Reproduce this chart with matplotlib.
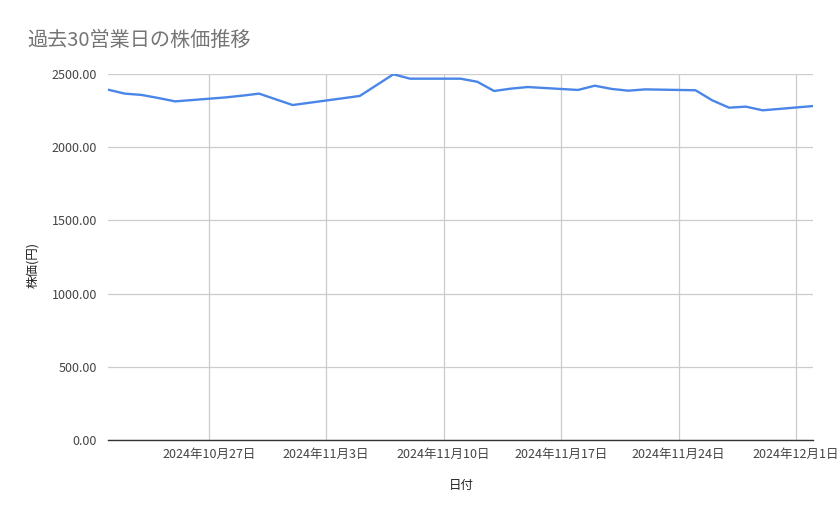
import numpy as np
import pandas as pd
import matplotlib
matplotlib.use("Agg")
import matplotlib.pyplot as plt
import matplotlib.dates as mdates

plt.rcParams['font.family'] = ['Noto Sans CJK JP', 'DejaVu Sans']

# 営業日（11/4は祝日）
dates = pd.to_datetime([
    "2024-10-21", "2024-10-22", "2024-10-23", "2024-10-24", "2024-10-25",
    "2024-10-28", "2024-10-29", "2024-10-30", "2024-10-31", "2024-11-01",
    "2024-11-05", "2024-11-06", "2024-11-07", "2024-11-08",
    "2024-11-11", "2024-11-12", "2024-11-13", "2024-11-14", "2024-11-15",
    "2024-11-18", "2024-11-19", "2024-11-20", "2024-11-21", "2024-11-22",
    "2024-11-25", "2024-11-26", "2024-11-27", "2024-11-28", "2024-11-29",
    "2024-12-02",
])
prices = [
    2393, 2366, 2357, 2336, 2313,
    2340, 2352, 2366, 2327, 2288,
    2350, 2424, 2498, 2468,
    2468, 2447, 2384, 2400, 2411,
    2391, 2420, 2398, 2386, 2395,
    2389, 2320, 2270, 2277, 2252,
    2281,
]
tick_dates = pd.to_datetime(["2024-10-27", "2024-11-03", "2024-11-10",
                             "2024-11-17", "2024-11-24", "2024-12-01"])
tick_labels = ["2024年10月27日", "2024年11月3日", "2024年11月10日",
               "2024年11月17日", "2024年11月24日", "2024年12月1日"]
y_ticks = [0, 500, 1000, 1500, 2000, 2500]

W, H = 839, 519
fig = plt.figure(figsize=(W / 100, H / 100), dpi=100)
ax = fig.add_axes([108 / W, 1 - 440 / H, (813 - 108) / W, (440 - 74) / H])

ax.plot(dates, prices, color="#4a86e8", lw=1.7, zorder=3)

ax.set_xlim(pd.Timestamp("2024-10-21"), pd.Timestamp("2024-12-02"))
ax.set_ylim(0, 2500)
ax.set_xticks(tick_dates)
ax.set_xticklabels(tick_labels, fontsize=9, color="#444444")
ax.set_yticks(y_ticks)
ax.set_yticklabels(["%.2f" % v for v in y_ticks], fontsize=9, color="#444444")
ax.tick_params(length=0, pad=6)
ax.tick_params(axis='y', pad=8)

ax.grid(True, color="#cccccc", lw=0.9)
ax.set_axisbelow(True)
for s in ["top", "right", "left"]:
    ax.spines[s].set_visible(False)
ax.spines["bottom"].set_color("#333333")
ax.spines["bottom"].set_linewidth(1.0)
ax.spines["bottom"].set_zorder(4)

fig.text(27 / W, 1 - 40 / H, "過去30営業日の株価推移", fontsize=14.5,
         color="#757575", va="center", ha="left")
fig.text(33 / W, 1 - 265 / H, "株価(円)", fontsize=9, color="#222222",
         rotation=90, va="center", ha="center")
fig.text(461 / W, 1 - 485 / H, "日付", fontsize=9, color="#222222",
         va="center", ha="center")

fig.savefig("out.png", dpi=100)
